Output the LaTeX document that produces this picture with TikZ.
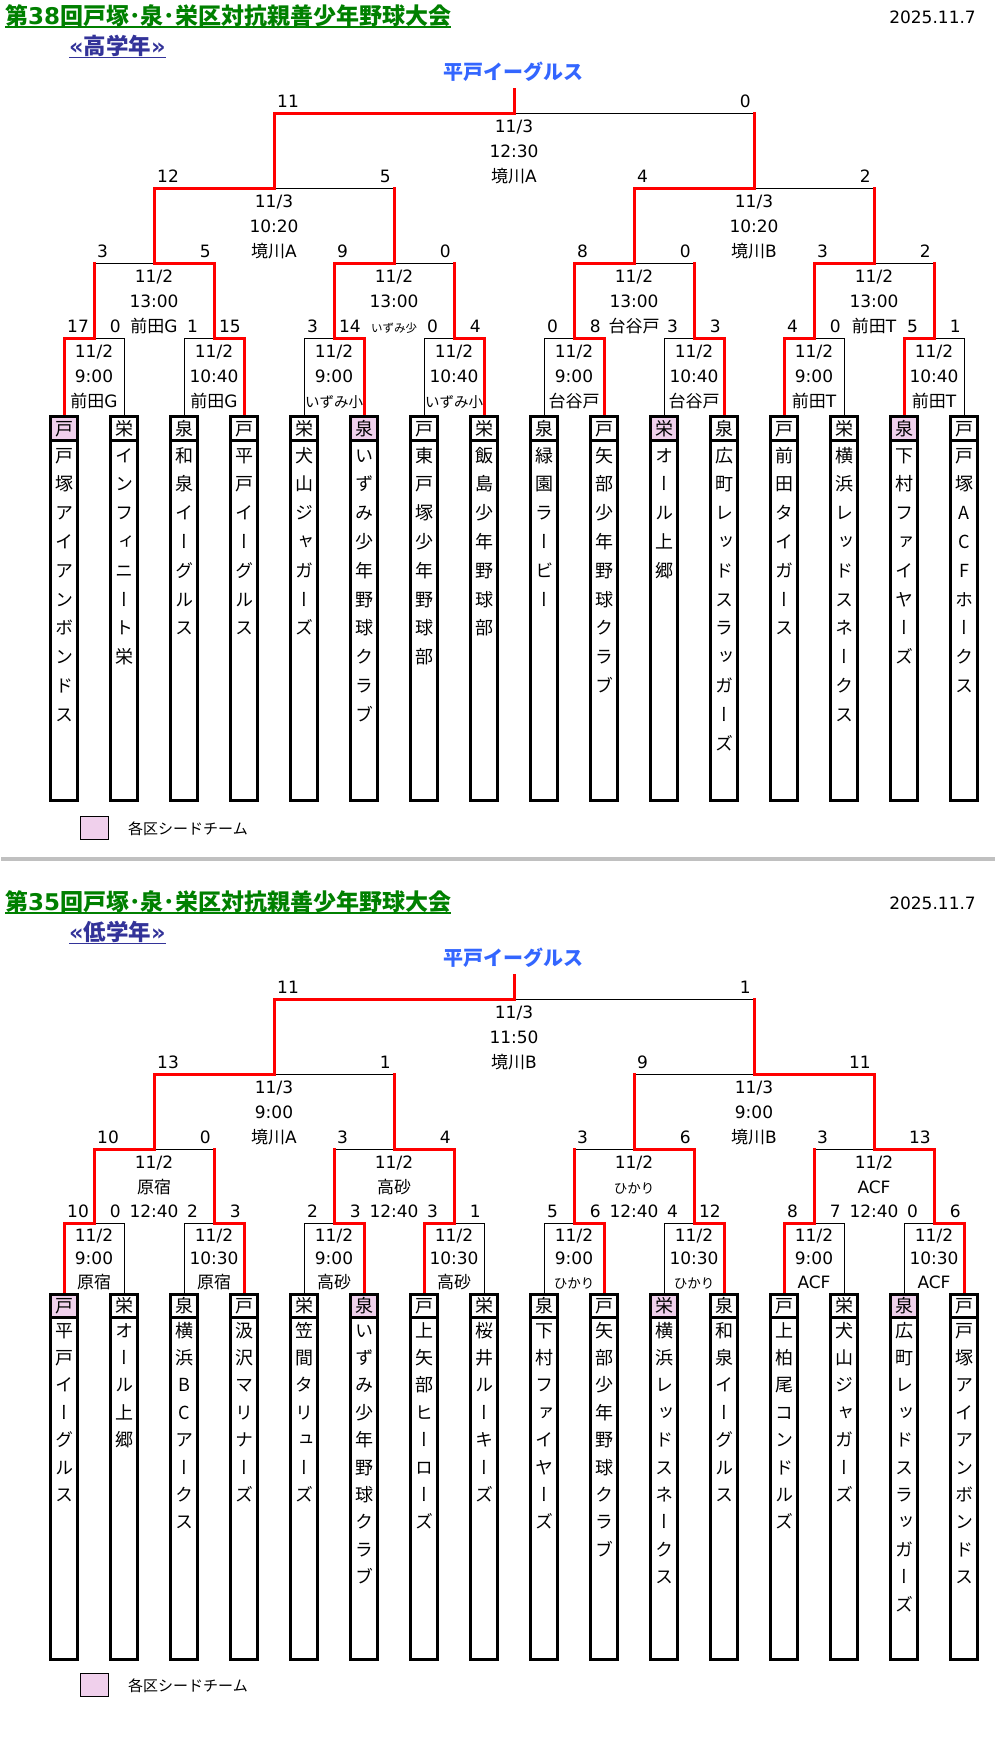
\documentclass[tikz,border=0pt]{standalone}
\usepackage{fontspec}
\setmainfont{DejaVu Sans}
\newfontfamily\jp{Noto Sans CJK JP}
\newfontfamily\jpv{Noto Sans CJK JP}[RawFeature=+vert]
\definecolor{ttlgreen}{RGB}{0,128,0}
\definecolor{subblue}{RGB}{51,51,153}
\definecolor{winblue}{RGB}{51,102,255}
\definecolor{seedpink}{RGB}{240,208,236}
\definecolor{sepgray}{RGB}{192,192,192}
\newcommand\jt[1]{{\jp #1}}
\newcommand\izsho{{\fontsize{14.5}{15}\selectfont\jt{いずみ小}}}
\newcommand\izshoS{{\fontsize{11.5}{12}\selectfont\jt{いずみ少}}}
\newcommand\hikari{{\fontsize{13.5}{14}\selectfont\jt{ひかり}}}
\tikzset{
 txt/.style={inner sep=0pt,anchor=base,font=\fontsize{17}{17}\selectfont},
 thinl/.style={black,line width=1pt},
 win/.style={red,line width=3pt,line cap=rect,line join=miter},
 boxline/.style={black,line width=3pt},
 seedfill/.style={fill=seedpink},
 hdr/.style={inner sep=0pt,anchor=base,font=\jp\fontsize{18}{18}\selectfont},
 namech/.style={inner sep=0pt,anchor=base,font=\jpv\fontsize{18}{18}\selectfont},
 ttl/.style={inner sep=0pt,anchor=base west,text=ttlgreen,font=\bfseries\fontsize{23}{23}\selectfont},
 subttl/.style={inner sep=0pt,anchor=base west,text=subblue,font=\bfseries\fontsize{22.5}{22.5}\selectfont},
 champ/.style={inner sep=0pt,anchor=base,text=winblue,font=\jp\bfseries\fontsize{20}{20}\selectfont},
 datetxt/.style={inner sep=0pt,anchor=base east,font=\fontsize{17}{17}\selectfont},
 legtxt/.style={inner sep=0pt,anchor=base west,font=\jp\fontsize{15}{15}\selectfont},
}
% scores: xa xb bar left right
\newcommand\score[5]{%
 \node[txt,anchor=base west] at (#1+3,#3-6) {#4};
 \node[txt,anchor=base east] at (#2-3,#3-6) {#5};}
% match info: x bar l1 l2 l3
\newcommand\minfo[5]{%
 \node[txt] at (#1,#2+\oa) {#3};
 \node[txt] at (#1,#2+\ob) {#4};
 \node[txt] at (#1,#2+\oc) {#5};}
% match lines: xa xb bar parent win bottom
\newcommand\mtblack[6]{%
 \ifdim#6pt>0pt \draw[thinl] (#1,#6)--(#1,#3)--(#2,#3)--(#2,#6);
 \else \draw[thinl] (#1,#3)--(#2,#3);\fi}
\newcommand\mtred[6]{%
 \pgfmathsetmacro\mc{(#1+#2)/2}%
 \ifnum#5=0 \def\mw{#1}\else\def\mw{#2}\fi
 \ifdim#6pt>0pt \draw[win] (\mw,#6)--(\mw,#3)--(\mc,#3)--(\mc,#4);
 \else \draw[win] (\mw,#3)--(\mc,#3)--(\mc,#4);\fi}
% team box: c header seed list name
\newcommand\teambox[5]{%
 \ifnum#3=1 \fill[seedfill] (#1-13.5,\bt) rectangle (#1+13.5,\bh);\fi
 \draw[boxline] (#1-13.5,\bt) rectangle (#1+13.5,\bb);
 \draw[boxline] (#1-13.5,\bh) -- (#1+13.5,\bh);
 \node[hdr] (#5h) at (#1,\hb) {#2};
 \foreach \ch [count=\i from 0] in {#4} \node[namech] (#5c\i) at (#1,\fb+\i*\ptch) {\ch};}
\newcommand\upperMatches{%
 \MM{64}{124}{338}{263}{0}{415}\MM{184}{244}{338}{263}{1}{415}
 \MM{304}{364}{338}{263}{1}{415}\MM{424}{484}{338}{263}{1}{415}
 \MM{544}{604}{338}{263}{1}{415}\MM{664}{724}{338}{263}{1}{415}
 \MM{784}{844}{338}{263}{0}{415}\MM{904}{964}{338}{263}{0}{415}
 \MM{94}{214}{263}{188}{1}{0}\MM{334}{454}{263}{188}{0}{0}
 \MM{574}{694}{263}{188}{0}{0}\MM{814}{934}{263}{188}{0}{0}
 \MM{154}{394}{188}{113}{0}{0}\MM{634}{874}{188}{113}{0}{0}
 \MM{274}{754}{113}{89.5}{0}{0}}
\newcommand\lowerMatches{%
 \MM{64}{124}{1223}{1149}{0}{1293}\MM{184}{244}{1223}{1149}{1}{1293}
 \MM{304}{364}{1223}{1149}{1}{1293}\MM{424}{484}{1223}{1149}{0}{1293}
 \MM{544}{604}{1223}{1149}{1}{1293}\MM{664}{724}{1223}{1149}{1}{1293}
 \MM{784}{844}{1223}{1149}{0}{1293}\MM{904}{964}{1223}{1149}{1}{1293}
 \MM{94}{214}{1149}{1074}{0}{0}\MM{334}{454}{1149}{1074}{1}{0}
 \MM{574}{694}{1149}{1074}{1}{0}\MM{814}{934}{1149}{1074}{1}{0}
 \MM{154}{394}{1074}{999}{0}{0}\MM{634}{874}{1074}{999}{1}{0}
 \MM{274}{754}{999}{975.5}{0}{0}}
\begin{document}
\begin{tikzpicture}[x=1pt,y=-1pt]
\useasboundingbox (0,0) rectangle (995,1741);
\fill[white] (0,0) rectangle (995,1741);
% ================= UPPER =================
\node[ttl] (t1) at (5,24) {\jt{第}38\jt{回戸塚･泉･栄区対抗親善少年野球大会}};
\draw[ttlgreen,line width=1.5pt] (t1.west |- 0,27) -- (t1.east |- 0,27);
\node[subttl] (s1) at (69,54) {«\jt{高学年}»};
\draw[subblue,line width=1pt] (s1.west |- 0,57.5) -- (s1.east |- 0,57.5);
\node[datetxt] (d1) at (976,23) {2025.11.7};
\node[champ] (w1) at (513,79.5) {平戸イーグルス};
% scores
\score{64}{124}{338}{17}{0}\score{184}{244}{338}{1}{15}
\score{304}{364}{338}{3}{14}\score{424}{484}{338}{0}{4}
\score{544}{604}{338}{0}{8}\score{664}{724}{338}{3}{3}
\score{784}{844}{338}{4}{0}\score{904}{964}{338}{5}{1}
\score{94}{214}{263}{3}{5}\score{334}{454}{263}{9}{0}
\score{574}{694}{263}{8}{0}\score{814}{934}{263}{3}{2}
\score{154}{394}{188}{12}{5}\score{634}{874}{188}{4}{2}
\score{274}{754}{113}{11}{0}
% info
\def\oa{19}\def\ob{44.5}\def\oc{69}
\minfo{94}{338}{11/2}{9:00}{\jt{前田}G}
\minfo{214}{338}{11/2}{10:40}{\jt{前田}G}
\minfo{334}{338}{11/2}{9:00}{\izsho}
\minfo{454}{338}{11/2}{10:40}{\izsho}
\minfo{574}{338}{11/2}{9:00}{\jt{台谷戸}}
\minfo{694}{338}{11/2}{10:40}{\jt{台谷戸}}
\minfo{814}{338}{11/2}{9:00}{\jt{前田}T}
\minfo{934}{338}{11/2}{10:40}{\jt{前田}T}
\def\ob{44}
\minfo{154}{263}{11/2}{13:00}{\jt{前田}G}
\minfo{394}{263}{11/2}{13:00}{\izshoS}
\minfo{634}{263}{11/2}{13:00}{\jt{台谷戸}}
\minfo{874}{263}{11/2}{13:00}{\jt{前田}T}
\minfo{274}{188}{11/3}{10:20}{\jt{境川}A}
\minfo{754}{188}{11/3}{10:20}{\jt{境川}B}
\minfo{514}{113}{11/3}{12:30}{\jt{境川}A}
% lines
\let\MM\mtblack \upperMatches
\let\MM\mtred \upperMatches
% team boxes
\def\bt{416.5}\def\bh{440}\def\bb{800.5}\def\hb{435}\def\fb{462}\def\ptch{28.8}
\teambox{64}{戸}{1}{戸,塚,ア,イ,ア,ン,ボ,ン,ド,ス}{u1}
\teambox{124}{栄}{0}{イ,ン,フ,ィ,ニ,ー,ト,栄}{u2}
\teambox{184}{泉}{0}{和,泉,イ,ー,グ,ル,ス}{u3}
\teambox{244}{戸}{0}{平,戸,イ,ー,グ,ル,ス}{u4}
\teambox{304}{栄}{0}{犬,山,ジ,ャ,ガ,ー,ズ}{u5}
\teambox{364}{泉}{1}{い,ず,み,少,年,野,球,ク,ラ,ブ}{u6}
\teambox{424}{戸}{0}{東,戸,塚,少,年,野,球,部}{u7}
\teambox{484}{栄}{0}{飯,島,少,年,野,球,部}{u8}
\teambox{544}{泉}{0}{緑,園,ラ,ー,ビ,ー}{u9}
\teambox{604}{戸}{0}{矢,部,少,年,野,球,ク,ラ,ブ}{u10}
\teambox{664}{栄}{1}{オ,ー,ル,上,郷}{u11}
\teambox{724}{泉}{0}{広,町,レ,ッ,ド,ス,ラ,ッ,ガ,ー,ズ}{u12}
\teambox{784}{戸}{0}{前,田,タ,イ,ガ,ー,ス}{u13}
\teambox{844}{栄}{0}{横,浜,レ,ッ,ド,ス,ネ,ー,ク,ス}{u14}
\teambox{904}{泉}{1}{下,村,フ,ァ,イ,ヤ,ー,ズ}{u15}
\teambox{964}{戸}{0}{戸,塚,A,C,F,ホ,ー,ク,ス}{u16}
% legend
\draw[fill=seedpink,line width=1pt] (80.5,816.5) rectangle (108.5,839.5);
\node[legtxt] (lg1) at (128,834) {各区シードチーム};
% separator
\draw[sepgray,line width=4pt] (1,859) -- (995,859);
% ================= LOWER =================
\node[ttl] (t2) at (5,910) {\jt{第}35\jt{回戸塚･泉･栄区対抗親善少年野球大会}};
\draw[ttlgreen,line width=1.5pt] (t2.west |- 0,913) -- (t2.east |- 0,913);
\node[subttl] (s2) at (69,940) {«\jt{低学年}»};
\draw[subblue,line width=1pt] (s2.west |- 0,943.5) -- (s2.east |- 0,943.5);
\node[datetxt] (d2) at (976,909) {2025.11.7};
\node[champ] (w2) at (513,965.5) {平戸イーグルス};
% scores
\score{64}{124}{1223}{10}{0}\score{184}{244}{1223}{2}{3}
\score{304}{364}{1223}{2}{3}\score{424}{484}{1223}{3}{1}
\score{544}{604}{1223}{5}{6}\score{664}{724}{1223}{4}{12}
\score{784}{844}{1223}{8}{7}\score{904}{964}{1223}{0}{6}
\score{94}{214}{1149}{10}{0}\score{334}{454}{1149}{3}{4}
\score{574}{694}{1149}{3}{6}\score{814}{934}{1149}{3}{13}
\score{154}{394}{1074}{13}{1}\score{634}{874}{1074}{9}{11}
\score{274}{754}{999}{11}{1}
% info
\def\oa{18}\def\ob{41}\def\oc{65}
\minfo{94}{1223}{11/2}{9:00}{\jt{原宿}}
\minfo{214}{1223}{11/2}{10:30}{\jt{原宿}}
\minfo{334}{1223}{11/2}{9:00}{\jt{高砂}}
\minfo{454}{1223}{11/2}{10:30}{\jt{高砂}}
\minfo{574}{1223}{11/2}{9:00}{\hikari}
\minfo{694}{1223}{11/2}{10:30}{\hikari}
\minfo{814}{1223}{11/2}{9:00}{ACF}
\minfo{934}{1223}{11/2}{10:30}{ACF}
\def\oa{19}\def\ob{44}\def\oc{68}
\minfo{154}{1149}{11/2}{\jt{原宿}}{12:40}
\minfo{394}{1149}{11/2}{\jt{高砂}}{12:40}
\minfo{634}{1149}{11/2}{\hikari}{12:40}
\minfo{874}{1149}{11/2}{ACF}{12:40}
\def\oc{69}
\minfo{274}{1074}{11/3}{9:00}{\jt{境川}A}
\minfo{754}{1074}{11/3}{9:00}{\jt{境川}B}
\minfo{514}{999}{11/3}{11:50}{\jt{境川}B}
% lines
\let\MM\mtblack \lowerMatches
\let\MM\mtred \lowerMatches
% team boxes
\def\bt{1294.5}\def\bh{1317}\def\bb{1659}\def\hb{1312.5}\def\fb{1337}\def\ptch{27.4}
\teambox{64}{戸}{1}{平,戸,イ,ー,グ,ル,ス}{l1}
\teambox{124}{栄}{0}{オ,ー,ル,上,郷}{l2}
\teambox{184}{泉}{0}{横,浜,B,C,ア,ー,ク,ス}{l3}
\teambox{244}{戸}{0}{汲,沢,マ,リ,ナ,ー,ズ}{l4}
\teambox{304}{栄}{0}{笠,間,タ,リ,ュ,ー,ズ}{l5}
\teambox{364}{泉}{1}{い,ず,み,少,年,野,球,ク,ラ,ブ}{l6}
\teambox{424}{戸}{0}{上,矢,部,ヒ,ー,ロ,ー,ズ}{l7}
\teambox{484}{栄}{0}{桜,井,ル,ー,キ,ー,ズ}{l8}
\teambox{544}{泉}{0}{下,村,フ,ァ,イ,ヤ,ー,ズ}{l9}
\teambox{604}{戸}{0}{矢,部,少,年,野,球,ク,ラ,ブ}{l10}
\teambox{664}{栄}{1}{横,浜,レ,ッ,ド,ス,ネ,ー,ク,ス}{l11}
\teambox{724}{泉}{0}{和,泉,イ,ー,グ,ル,ス}{l12}
\teambox{784}{戸}{0}{上,柏,尾,コ,ン,ド,ル,ズ}{l13}
\teambox{844}{栄}{0}{犬,山,ジ,ャ,ガ,ー,ズ}{l14}
\teambox{904}{泉}{1}{広,町,レ,ッ,ド,ス,ラ,ッ,ガ,ー,ズ}{l15}
\teambox{964}{戸}{0}{戸,塚,ア,イ,ア,ン,ボ,ン,ド,ス}{l16}
% legend
\draw[fill=seedpink,line width=1pt] (80.5,1673.5) rectangle (108.5,1696.5);
\node[legtxt] (lg2) at (128,1691) {各区シードチーム};
\end{tikzpicture}
\end{document}
